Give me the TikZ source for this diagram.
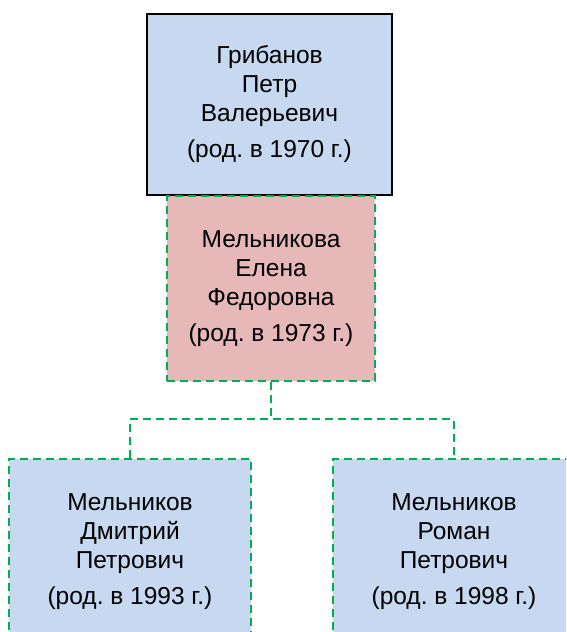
\documentclass[tikz,border=0pt]{standalone}
\usepackage{fontspec}
\setmainfont{Liberation Sans}
\frenchspacing
\usetikzlibrary{positioning}

\begin{document}
\begin{tikzpicture}[x=1pt,y=-1pt,
    every node/.style={align=center,inner sep=0pt,font=\fontsize{24.5}{29}\selectfont},
    link/.style={draw=bG,line width=2.4pt,dash pattern=on 8pt off 5pt},
    parentbox/.style={draw=black,line width=1.8pt,fill=C,minimum width=245pt,minimum height=181pt},
    motherbox/.style={link,fill=A,minimum width=208pt,minimum height=185pt},
    childbox/.style={link,fill=C,minimum width=242pt,minimum height=185pt}]
      \definecolor{A}{HTML}{E6B8B7}
      \definecolor{C}{HTML}{C6D9F0}
      \definecolor{bG}{HTML}{00B050}
      \clip (0,0) rectangle (566,632);
      \node[parentbox] (petr) at (269.5,104.5) {Грибанов\\Петр\\Валерьевич\\[7pt](род. в 1970 г.)};
      \node[motherbox] (elena) at (271,288.5) {Мельникова\\Елена\\Федоровна\\[7pt](род. в 1973 г.)};
      \node[childbox] (dmitry) at (130,551.5) {Мельников\\Дмитрий\\Петрович\\[7pt](род. в 1993 г.)};
      \node[childbox] (roman) at (454,551.5) {Мельников\\Роман\\Петрович\\[7pt](род. в 1998 г.)};
      \coordinate[below=37pt of elena.south] (fork);
      \draw[link] (elena.south) -- (fork);
      \draw[link] (dmitry.north) |- (fork) -| (roman.north);
    \end{tikzpicture}
\end{document}
